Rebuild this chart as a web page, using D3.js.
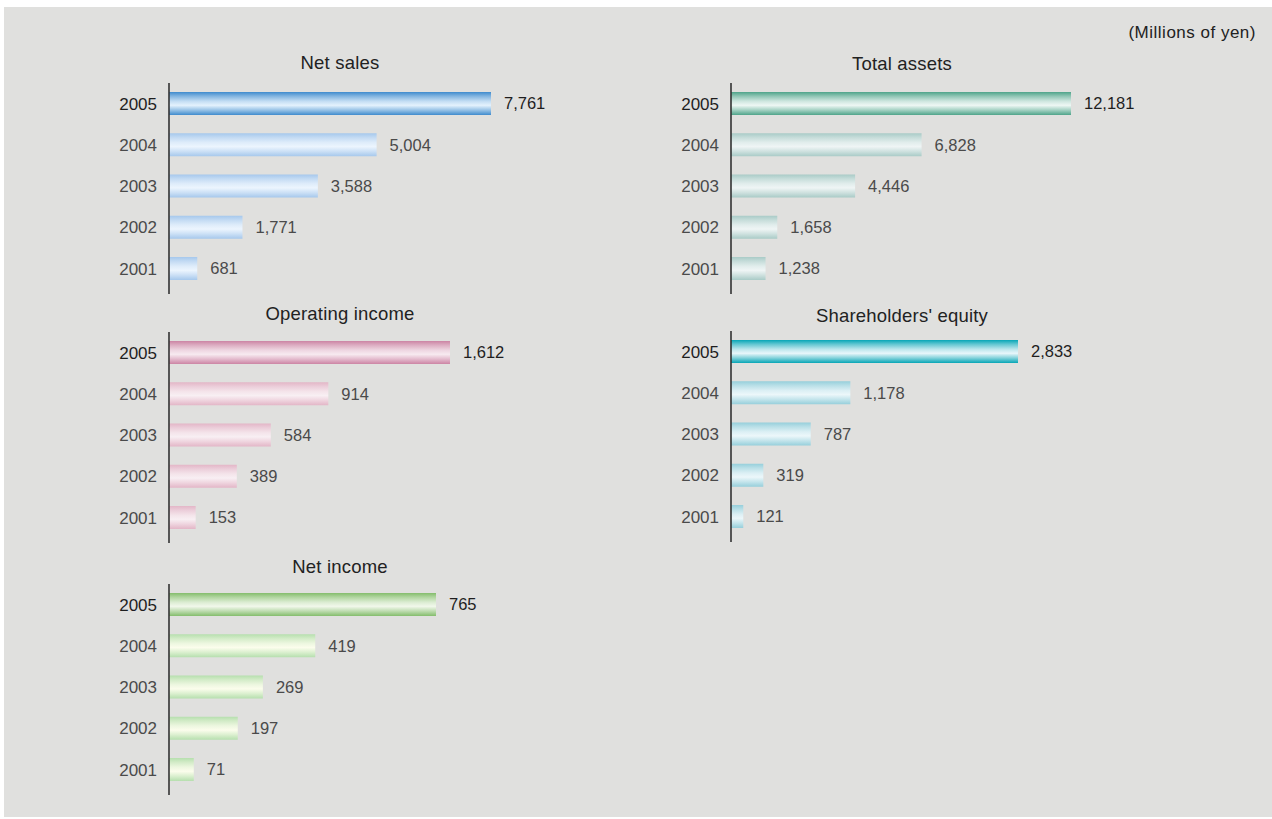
<!DOCTYPE html>
<html>
<head>
<meta charset="utf-8">
<script src="https://cdn.jsdelivr.net/npm/d3@7"></script>
<style>
  body { margin: 0; background: #fff; }
  text { font-family: "Liberation Sans", Arial, Helvetica, sans-serif; }
</style>
</head>
<body>
<div class="svgContainer"></div>
<script>
/* data */
var years = ["2005", "2004", "2003", "2002", "2001"];
var netSales = [7761, 5004, 3588, 1771, 681];
var totalAssets = [12181, 6828, 4446, 1658, 1238];
var operatingIncome = [1612, 914, 584, 389, 153];
var shareholdersEquity = [2833, 1178, 787, 319, 121];
var netIncome = [765, 419, 269, 197, 71];
var unitLabel = "(Millions of yen)";

/* panel layout: axis x, top of first bar, title baseline, width of longest bar, colours */
var panels = [
  { id: "netsales", title: "Net sales", values: netSales, ax: 169, barTop: 92, titleY: 69, maxW: 322,
    hi: ["#3f8bcd", "#e4f2fd"], lo: ["#a6c8ec", "#ecf5fe"] },
  { id: "totalassets", title: "Total assets", values: totalAssets, ax: 731, barTop: 92, titleY: 70, maxW: 340,
    hi: ["#4fa48a", "#eef7f4"], lo: ["#a9cbc7", "#eff5f5"] },
  { id: "opincome", title: "Operating income", values: operatingIncome, ax: 169, barTop: 341, titleY: 320, maxW: 281,
    hi: ["#cc84a4", "#f7eaf0"], lo: ["#e3b6c7", "#f8eff3"] },
  { id: "equity", title: "Shareholders' equity", values: shareholdersEquity, ax: 731, barTop: 340, titleY: 322, maxW: 287,
    hi: ["#07a6b6", "#e8f6fa"], lo: ["#96cfdb", "#ecf7fa"] },
  { id: "netincome", title: "Net income", values: netIncome, ax: 169, barTop: 593, titleY: 573, maxW: 267,
    hi: ["#84bd6c", "#f1f8eb"], lo: ["#b6dfae", "#fbfdec"] }
];

var canvas_width = 1272,
    canvas_height = 819,
    bar_h = 23,
    bar_step = 41.25,
    axis_len = 211;

var svg = d3.select(".svgContainer")
  .append("svg")
    .attr("width", canvas_width)
    .attr("height", canvas_height);

/* grey backdrop */
svg.append("rect")
  .attr("x", 4)
  .attr("y", 7)
  .attr("width", canvas_width - 4)
  .attr("height", canvas_height - 9)
  .attr("fill", "#e0e0de");

svg.append("text")
  .attr("x", 1256)
  .attr("y", 38)
  .attr("text-anchor", "end")
  .attr("font-size", 17)
  .attr("letter-spacing", 0.5)
  .attr("fill", "#222")
  .text(unitLabel);

var defs = svg.append("defs");

/* shiny tube gradient: dark edges, pale band a little below the middle */
function addGradient(id, c) {
  var mix = d3.interpolateRgb(c[0], c[1]);
  var g = defs.append("linearGradient")
    .attr("id", id)
    .attr("x1", 0).attr("y1", 0)
    .attr("x2", 0).attr("y2", 1);
  [[0, 0], [0.18, 0.4], [0.4, 0.8], [0.58, 1], [0.78, 0.55], [1, 0]].forEach(function(s) {
    g.append("stop")
      .attr("offset", s[0])
      .attr("stop-color", mix(s[1]));
  });
}

panels.forEach(function(p) {
  addGradient(p.id + "-hi", p.hi);
  addGradient(p.id + "-lo", p.lo);

  var y = d3.scaleBand()
    .domain(years)
    .range([p.barTop, p.barTop + (years.length - 1) * bar_step + bar_h])
    .paddingInner(1 - bar_h / bar_step)
    .paddingOuter(0);

  var x = d3.scaleLinear()
    .domain([0, d3.max(p.values)])
    .range([0, p.maxW]);

  var g = svg.append("g")
    .attr("id", p.id)
    .attr("transform", "translate(" + p.ax + ",0)");

  /* title */
  g.append("text")
    .attr("x", 171)
    .attr("y", p.titleY)
    .attr("text-anchor", "middle")
    .attr("font-size", 18.5)
    .attr("letter-spacing", 0.2)
    .attr("fill", "#222")
    .text(p.title);

  var rows = g.selectAll(".row")
    .data(years.map(function(d, i) { return { year: d, value: p.values[i], i: i }; }))
    .enter()
      .append("g")
        .attr("class", "row");

  rows.append("rect")
    .attr("x", 0)
    .attr("y", function(d) { return y(d.year); })
    .attr("width", function(d) { return x(d.value); })
    .attr("height", y.bandwidth())
    .attr("fill", function(d) { return "url(#" + p.id + (d.i === 0 ? "-hi" : "-lo") + ")"; });

  /* year labels */
  rows.append("text")
    .attr("x", -12)
    .attr("y", function(d) { return y(d.year) + y.bandwidth() / 2; })
    .attr("dy", "0.36em")
    .attr("text-anchor", "end")
    .attr("font-size", 17)
    .attr("fill", function(d) { return d.i === 0 ? "#1e1e1e" : "#4a4a4a"; })
    .text(function(d) { return d.year; });

  /* value labels */
  rows.append("text")
    .attr("x", function(d) { return x(d.value) + 13; })
    .attr("y", function(d) { return y(d.year) + y.bandwidth() / 2; })
    .attr("dy", "0.36em")
    .attr("font-size", 16.5)
    .attr("fill", function(d) { return d.i === 0 ? "#1e1e1e" : "#4a4a4a"; })
    .text(function(d) { return d3.format(",")(d.value); });

  /* vertical axis line */
  g.append("line")
    .attr("x1", 0).attr("x2", 0)
    .attr("y1", p.barTop - 9)
    .attr("y2", p.barTop - 9 + axis_len)
    .attr("stroke", "#333")
    .attr("stroke-width", 1.6);
});
</script>
</body>
</html>
